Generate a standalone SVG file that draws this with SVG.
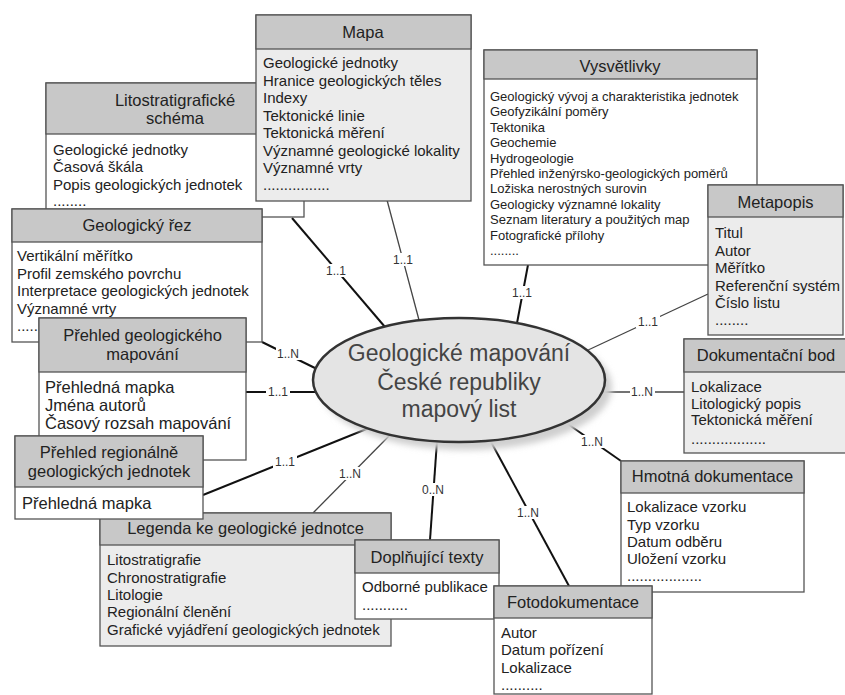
<svg xmlns="http://www.w3.org/2000/svg" width="845" height="695" viewBox="0 0 845 695">
<defs>
<filter id="blur" x="-20%" y="-20%" width="140%" height="140%"><feGaussianBlur stdDeviation="3"/></filter>
<style>
text{font-family:"Liberation Sans",Arial,sans-serif;fill:#222;}
.box{stroke:#555;stroke-width:1.3;}
.white{fill:#fff;}
.light{fill:#ececec;}
.head{fill:#c8c8c8;stroke:#555;stroke-width:1.3;}
.ht{font-size:16.5px;text-anchor:middle;}
.bt{font-size:15px;}
.bt13{font-size:13px;}
.bt16{font-size:16.5px;}
.thick{stroke:#111;stroke-width:2;fill:none;}
.thin{stroke:#444;stroke-width:1.3;fill:none;}
.lbl{font-size:12px;text-anchor:middle;fill:#333;}
.lbg{fill:#fff;}
.et{font-size:23px;text-anchor:middle;fill:#444;}
</style>
</defs>
<rect width="845" height="695" fill="#fff"/>

<g id="connectors">
<line class="thick" x1="292" y1="218" x2="385" y2="327"/>
<line class="thin" x1="387" y1="200" x2="419" y2="320"/>
<line class="thick" x1="528" y1="265" x2="517" y2="323"/>
<line class="thin" x1="708" y1="294" x2="586" y2="351"/>
<line class="thin" x1="684" y1="392" x2="602" y2="392"/>
<line class="thick" x1="621" y1="461" x2="565" y2="422"/>
<line class="thick" x1="569" y1="586" x2="490" y2="440"/>
<line class="thick" x1="430" y1="540" x2="437" y2="441"/>
<line class="thin" x1="313" y1="513" x2="390" y2="435"/>
<line class="thick" x1="203" y1="495" x2="369" y2="428"/>
<line class="thick" x1="246" y1="392" x2="317" y2="392"/>
<line class="thick" x1="262" y1="342" x2="319" y2="370"/>
<rect class="lbg" x="324" y="264" width="24" height="13"/><text class="lbl" x="336" y="275">1..1</text>
<rect class="lbg" x="391" y="253" width="24" height="13"/><text class="lbl" x="403" y="264">1..1</text>
<rect class="lbg" x="510" y="286" width="24" height="13"/><text class="lbl" x="522" y="297">1..1</text>
<rect class="lbg" x="636" y="315" width="24" height="13"/><text class="lbl" x="648" y="326">1..1</text>
<rect class="lbg" x="630" y="385" width="25" height="13"/><text class="lbl" x="642" y="396">1..N</text>
<rect class="lbg" x="580" y="435" width="25" height="13"/><text class="lbl" x="592" y="446">1..N</text>
<rect class="lbg" x="516" y="506" width="25" height="13"/><text class="lbl" x="528" y="517">1..N</text>
<rect class="lbg" x="421" y="483" width="25" height="13"/><text class="lbl" x="433" y="494">0..N</text>
<rect class="lbg" x="338" y="467" width="25" height="13"/><text class="lbl" x="350" y="478">1..N</text>
<rect class="lbg" x="273" y="455" width="24" height="13"/><text class="lbl" x="285" y="466">1..1</text>
<rect class="lbg" x="266" y="385" width="24" height="13"/><text class="lbl" x="278" y="396">1..1</text>
<rect class="lbg" x="276" y="347" width="25" height="13"/><text class="lbl" x="288" y="358">1..N</text>
</g>

<g id="center">
<ellipse cx="466" cy="387" rx="146" ry="63" fill="#cfcfcf" filter="url(#blur)"/>
<ellipse cx="459" cy="380" rx="146" ry="62" fill="#e4e4e4" stroke="#333" stroke-width="2.5"/>
<text class="et" x="459" y="361">Geologické mapování</text>
<text class="et" x="459" y="390">České republiky</text>
<text class="et" x="459" y="417">mapový list</text>
</g>

<g id="litostratigraficke">
<rect class="box white" x="46" y="83" width="258" height="134"/>
<rect class="head" x="46" y="83" width="258" height="51"/>
<text class="ht" x="175" y="106">Litostratigrafické</text>
<text class="ht" x="175" y="124">schéma</text>
<text class="bt" x="53" y="155">Geologické jednotky</text>
<text class="bt" x="53" y="172">Časová škála</text>
<text class="bt" x="53" y="189.5">Popis geologických jednotek</text>
<text class="bt" x="53" y="206">........</text>
</g>

<g id="mapa">
<rect class="box light" x="256" y="15" width="215" height="186"/>
<rect class="head" x="256" y="15" width="215" height="34"/>
<text class="ht" x="363" y="37.5">Mapa</text>
<text class="bt" x="263" y="68">Geologické jednotky</text>
<text class="bt" x="263" y="85.5">Hranice geologických těles</text>
<text class="bt" x="263" y="103">Indexy</text>
<text class="bt" x="263" y="120.5">Tektonické linie</text>
<text class="bt" x="263" y="138">Tektonická měření</text>
<text class="bt" x="263" y="155.5">Významné geologické lokality</text>
<text class="bt" x="263" y="173">Významné vrty</text>
<text class="bt" x="263" y="190">................</text>
</g>

<g id="vysvetlivky">
<rect class="box white" x="484" y="50" width="273" height="215"/>
<rect class="head" x="484" y="50" width="273" height="29"/>
<text class="ht" x="620" y="72">Vysvětlivky</text>
<text class="bt13" x="490" y="101">Geologický vývoj a charakteristika jednotek</text>
<text class="bt13" x="490" y="116.4">Geofyzikální poměry</text>
<text class="bt13" x="490" y="131.8">Tektonika</text>
<text class="bt13" x="490" y="147.2">Geochemie</text>
<text class="bt13" x="490" y="162.6">Hydrogeologie</text>
<text class="bt13" x="490" y="178">Přehled inženýrsko-geologických poměrů</text>
<text class="bt13" x="490" y="193.4">Ložiska nerostných surovin</text>
<text class="bt13" x="490" y="208.8">Geologicky významné lokality</text>
<text class="bt13" x="490" y="224.2">Seznam literatury a použitých map</text>
<text class="bt13" x="490" y="239.6">Fotografické přílohy</text>
<text class="bt13" x="490" y="255">........</text>
</g>

<g id="metapopis">
<rect class="box light" x="708" y="185" width="135" height="150"/>
<rect class="head" x="708" y="185" width="135" height="32"/>
<text class="ht" x="775.5" y="207.5">Metapopis</text>
<text class="bt" x="715" y="238">Titul</text>
<text class="bt" x="715" y="255.5">Autor</text>
<text class="bt" x="715" y="273">Měřítko</text>
<text class="bt" x="715" y="290.5">Referenční systém</text>
<text class="bt" x="715" y="308">Číslo listu</text>
<text class="bt" x="715" y="325">........</text>
</g>

<g id="geologicky-rez">
<rect class="box white" x="12" y="209" width="250" height="133"/>
<rect class="head" x="12" y="209" width="250" height="33"/>
<text class="ht" x="137" y="231">Geologický řez</text>
<text class="bt" x="17" y="261">Vertikální měřítko</text>
<text class="bt" x="17" y="278.5">Profil zemského povrchu</text>
<text class="bt" x="17" y="296">Interpretace geologických jednotek</text>
<text class="bt" x="17" y="313.5">Významné vrty</text>
<text class="bt" x="17" y="331">........</text>
</g>

<g id="prehled-mapovani">
<rect class="box white" x="39" y="318" width="207" height="142"/>
<rect class="head" x="39" y="318" width="207" height="54"/>
<text class="ht" x="142.5" y="341">Přehled geologického</text>
<text class="ht" x="142.5" y="360">mapování</text>
<text class="bt16" x="45" y="393">Přehledná mapka</text>
<text class="bt16" x="45" y="411">Jména autorů</text>
<text class="bt16" x="45" y="429">Časový rozsah mapování</text>
</g>

<g id="dokumentacni-bod">
<rect class="box light" x="684" y="339" width="165" height="114"/>
<rect class="head" x="684" y="339" width="165" height="33"/>
<text class="ht" x="766" y="361">Dokumentační bod</text>
<text class="bt" x="691" y="392">Lokalizace</text>
<text class="bt" x="691" y="408.5">Litologický popis</text>
<text class="bt" x="691" y="425">Tektonická měření</text>
<text class="bt" x="691" y="444">..................</text>
</g>

<g id="legenda">
<rect class="box light" x="100" y="513" width="291" height="133"/>
<rect class="head" x="100" y="513" width="291" height="32"/>
<text class="ht" x="245.5" y="534">Legenda ke geologické jednotce</text>
<text class="bt" x="107" y="565">Litostratigrafie</text>
<text class="bt" x="107" y="582.5">Chronostratigrafie</text>
<text class="bt" x="107" y="600">Litologie</text>
<text class="bt" x="107" y="617">Regionální členění</text>
<text class="bt" x="107" y="634.5">Grafické vyjádření geologických jednotek</text>
</g>

<g id="prehled-regionalne">
<rect class="box white" x="15" y="436" width="188" height="83"/>
<rect class="head" x="15" y="436" width="188" height="51"/>
<text class="ht" x="109" y="458">Přehled regionálně</text>
<text class="ht" x="109" y="477">geologických jednotek</text>
<text class="bt16" x="22" y="509">Přehledná mapka</text>
</g>

<g id="doplnujici-texty">
<rect class="box white" x="355" y="540" width="144" height="79"/>
<rect class="head" x="355" y="540" width="144" height="33"/>
<text class="ht" x="427" y="562.5">Doplňující texty</text>
<text class="bt" x="362" y="592">Odborné publikace</text>
<text class="bt" x="362" y="610">...........</text>
</g>

<g id="hmotna-dokumentace">
<rect class="box white" x="621" y="461" width="183" height="131"/>
<rect class="head" x="621" y="461" width="183" height="32"/>
<text class="ht" x="712.5" y="482">Hmotná dokumentace</text>
<text class="bt" x="627" y="512">Lokalizace vzorku</text>
<text class="bt" x="627" y="529.5">Typ vzorku</text>
<text class="bt" x="627" y="547">Datum odběru</text>
<text class="bt" x="627" y="564">Uložení vzorku</text>
<text class="bt" x="627" y="581">..................</text>
</g>

<g id="fotodokumentace">
<rect class="box white" x="494" y="586" width="158" height="108"/>
<rect class="head" x="494" y="586" width="158" height="32"/>
<text class="ht" x="573" y="607.5">Fotodokumentace</text>
<text class="bt" x="501" y="638">Autor</text>
<text class="bt" x="501" y="655">Datum pořízení</text>
<text class="bt" x="501" y="672.5">Lokalizace</text>
<text class="bt" x="501" y="690">..........</text>
</g>
</svg>
